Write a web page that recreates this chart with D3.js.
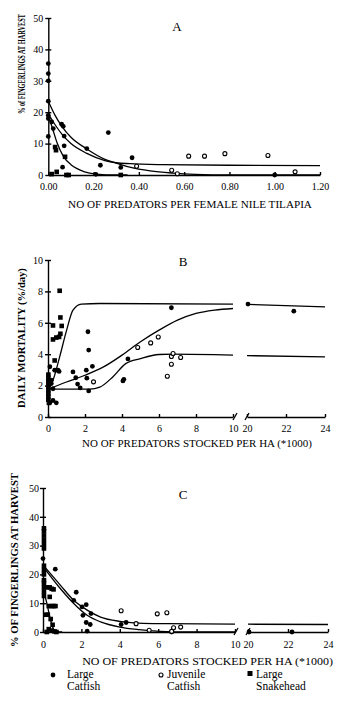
<!DOCTYPE html>
<meta charset="utf-8">
<head>
<title>Fingerlings vs predators</title>
<style>
  body { margin: 0; background: #fff; }
  svg { display: block; }
  .axis path, .axis line { fill: none; stroke: #000; stroke-width: 1.4px; }
  .axis text { font: 10px "Liberation Serif"; fill: #000; }
  .curve { fill: none; stroke: #000; stroke-width: 1.3px; }
  .ttl { font-family: "Liberation Serif"; fill: #000; }
</style>
</head>
<body>
<script src="https://cdn.jsdelivr.net/npm/d3@7"></script>
<script>
// ---- data: panel A (predators per female Nile tilapia) ----
var aLargeCatfish = [[0,35.5],[0,32.3],[0,30],[0,23.5],[0,19],[0,18],[0,12.3],[0.015,16.9],[0.022,14.8],
  [0.059,16.2],[0.066,15.5],[0.07,12.4],[0.07,9.3],[0.063,2.5],[0.17,8.4],[0.265,13.5],[0.23,3.1],
  [0.32,2.4],[0.37,5.5],[0.21,0.2],[1.0,0]];
var aJuvenileCatfish = [[0.39,2.8],[0.545,1.5],[0.57,0.4],[0.62,6],[0.69,6],[0.78,6.8],[0.97,6.2],[1.09,1]];
var aSnakehead = [[0.03,8.9],[0.034,7.9],[0.074,5.8],[0.037,1],[0.015,0.3],[0.08,0],[0.09,0],[0.32,0]];
var aCurveCatfish = [[0,23.5],[0.03,19],[0.06,15.5],[0.1,12],[0.17,8.3],[0.25,5],[0.3,3.8],[0.36,2.5],
  [0.45,1.3],[0.55,0.6],[0.65,0.2],[0.8,0],[1.2,0]];
var aCurveJuvenile = [[0,19.5],[0.03,16],[0.06,13],[0.1,10],[0.17,6.9],[0.25,4.6],[0.3,3.9],[0.36,3.6],
  [0.5,3.3],[0.8,3.1],[1.2,3.0]];
var aCurveSnakehead = [[0,19],[0.02,14.5],[0.04,10],[0.066,6],[0.1,3.3],[0.125,2.1],[0.16,1],[0.21,0.3],
  [0.3,0],[0.35,0]];
var aXTicks = [0, 0.2, 0.4, 0.6, 0.8, 1.0, 1.2];
var aYTicks = [0, 10, 20, 30, 40, 50];

// ---- data: panel B (daily mortality) ----
var bLargeCatfish = [[0.1,3.2],[0.18,2.34],[0.18,2.13],[0.27,1.8],[0.36,2.98],[0.45,2.98],[0.54,2.98],
  [0.6,2.9],[0.45,0.9],[0.27,1.05],[0.1,0.9],[1.35,2.87],[1.5,2.5],[1.6,2.1],[1.74,1.85],[2.07,2.98],
  [2.16,5.43],[2.2,4.26],[2.1,2.47],[2.2,1.66],[2.4,3.23],[4.05,2.3],[4.1,2.4],[4.32,3.7],[6.67,6.96],
  [20.05,7.19],[22.4,6.74]];
var bJuvenileCatfish = [[2.46,2.24],[4.85,4.43],[5.55,4.72],[5.96,5.1],[6.45,2.6],[6.67,3.36],
  [6.67,3.85],[6.76,4.04],[7.17,3.79]];
var bSnakehead = [[0.63,8.04],[0.67,6.34],[0.74,5.8],[0.27,5.83],[0.27,4.94],[0.45,5.06],[0.6,5.1],
  [0.67,5.3],[0.36,3.6],[0.02,2.7],[0.02,2.5],[0.02,2.3],[0.02,2.1],[0.02,1.9],[0.02,1.7],[0.02,1.5],
  [0.02,1.3],[0.02,1.1],[0.05,0.9]];
var bCurveSnakehead = [[0,1.77],[0.27,2.34],[0.63,3.83],[1.0,5.5],[1.35,6.8],[1.8,7.19],[2.8,7.23],[10,7.19]];
var bCurveCatfish = [[0,1.77],[1,2.23],[2,2.66],[3,3.19],[4,3.94],[5,4.79],[6,5.53],[7,6.17],[8,6.6],
  [9,6.81],[10,6.91]];
var bCurveJuvenile = [[0,1.77],[2.25,1.77],[2.8,1.9],[3.5,2.55],[4.2,3.4],[5,3.72],[6,3.98],[6.75,4.0],[10,3.94]];
var bCurveUpperRight = [[20,7.17],[24,7.02]];
var bCurveLowerRight = [[20,3.91],[24,3.83]];
var bXTicksLeft = [0, 2, 4, 6, 8, 10];
var bXTicksRight = [20, 22, 24];
var bYTicks = [0, 2, 4, 6, 8, 10];

// ---- data: panel C (fingerlings vs predators per ha) ----
var cLargeCatfish = [[0,25.5],[0.64,21.8],[1.73,13.8],[1.6,11],[2.03,8.7],[2.25,9.5],[2.5,6.4],[2.08,5.8],
  [2.25,3.3],[2.46,2.6],[2.3,0.3],[4.07,2.6],[4.33,3.3],[6.7,0],[20.05,0],[22.2,0]];
var cJuvenileCatfish = [[4.07,7.4],[4.85,2.9],[5.53,0.6],[5.95,6.3],[6.45,6.7],[6.8,1.5],[7.17,1.7],[6.7,0.2]];
var cSnakehead = [[0.05,36],[0.05,35],[0.05,33.5],[0.05,32],[0.05,30.5],[0.05,29],[0.05,23],[0.05,21.5],
  [0.05,20],[0.05,18],[0.05,17],[0.05,15.5],[0.05,14],[0.05,12.5],[0.2,15.5],[0.35,15.5],[0.45,15],
  [0.55,14.8],[0.35,12.2],[0.45,9],[0.55,9],[0.65,9],[0.3,9],[0.15,6],[0.25,6],[0.4,4.5],[0.5,2.5],
  [0.3,1],[0.45,0.5],[0.6,0.2],[0.7,0],[0.2,0]];
var cCurveCatfish = [[0,23.3],[0.9,16.3],[1.6,11],[2.3,7.6],[3,5.2],[4,3.7],[5,3.1],[6.4,2.9],[10,2.7]];
var cCurveJuvenile = [[0,22.8],[0.9,15.1],[1.6,9.9],[2.3,5.8],[3,3.5],[4,1.7],[5,0.8],[6.1,0.23],[7.5,0],[10,0]];
var cCurveSnakehead = [[0,15],[0.2,10],[0.4,4],[0.55,1],[0.7,0.1],[1,0]];
var cCurveUpperRight = [[20,2.7],[24,2.6]];
var cXTicksLeft = [0, 2, 4, 6, 8, 10];
var cXTicksRight = [20, 22, 24];
var cYTicks = [0, 10, 20, 30, 40, 50];

var legendLabels = [["Large", "Catfish"], ["Juvenile", "Catfish"], ["Large", "Snakehead"]];

var svg = d3.select("body").append("svg")
    .attr("width", 350)
    .attr("height", 702);

function yAxis(g, y, ticks, x0, pad) {
  var ax = g.append("g")
      .attr("class", "axis")
      .attr("transform", "translate(" + x0 + ",0)")
      .call(d3.axisLeft(y).tickValues(ticks).tickSize(3).tickSizeOuter(0).tickPadding(pad));
  ax.selectAll(".tick line").attr("x1", 3);
}

function xAxis(g, x, ticks, y0, fmt, pad) {
  g.append("g")
      .attr("class", "axis")
      .attr("transform", "translate(0," + y0 + ")")
      .call(d3.axisBottom(x).tickValues(ticks).tickSize(-3).tickSizeOuter(0)
        .tickPadding(pad).tickFormat(fmt));
}

function breakMark(g, x, y) {
  g.append("line").attr("x1", x - 2).attr("y1", y + 3).attr("x2", x + 2).attr("y2", y - 4)
      .attr("stroke", "#000").attr("stroke-width", 1.3);
}

function drawMarks(g, px, py, filled, open, squares) {
  g.selectAll(".fc").data(filled).enter().append("circle")
      .attr("cx", function(d) { return px(d[0]); })
      .attr("cy", function(d) { return py(d[1]); })
      .attr("r", 2.4).attr("fill", "#000");
  g.selectAll(".oc").data(open).enter().append("circle")
      .attr("cx", function(d) { return px(d[0]); })
      .attr("cy", function(d) { return py(d[1]); })
      .attr("r", 2).attr("fill", "#fff").attr("stroke", "#000").attr("stroke-width", 1.1);
  g.selectAll(".sq").data(squares).enter().append("rect")
      .attr("x", function(d) { return px(d[0]) - 2.3; })
      .attr("y", function(d) { return py(d[1]) - 2.3; })
      .attr("width", 4.6).attr("height", 4.6).attr("fill", "#000");
}

function drawCurve(g, px, py, pts) {
  var line = d3.line()
      .x(function(d) { return px(d[0]); })
      .y(function(d) { return py(d[1]); })
      .curve(d3.curveMonotoneX);
  g.append("path").attr("class", "curve").attr("d", line(pts));
}

// text squeezed to a given length with a scale transform, so its box matches what is drawn
function fitText(g, text, x, y, rot, len, size, weight) {
  var t = g.append("text").attr("class", "ttl")
      .attr("text-anchor", "middle")
      .style("font-size", size + "px").style("font-weight", weight)
      .text(text);
  var k = len / t.node().getComputedTextLength();
  t.attr("transform", "translate(" + x + "," + y + ")" + (rot ? " rotate(-90)" : "") +
      " scale(" + k + ",1)");
}

function letter(g, text, x, y) {
  g.append("text").attr("class", "ttl").attr("x", x).attr("y", y)
      .attr("text-anchor", "middle").style("font-size", "13px").text(text);
}

// ---------- panel A ----------
var gA = svg.append("g");
var xA = d3.scaleLinear().domain([0, 1.2]).range([48.3, 320]);
var yA = d3.scaleLinear().domain([0, 50]).range([175, 18]);
drawCurve(gA, xA, yA, aCurveCatfish);
drawCurve(gA, xA, yA, aCurveJuvenile);
drawCurve(gA, xA, yA, aCurveSnakehead);
yAxis(gA, yA, aYTicks, 48.3, 2);
xAxis(gA, xA, aXTicks, 175, d3.format(".2f"), 8);
drawMarks(gA, xA, yA, aLargeCatfish, aJuvenileCatfish, aSnakehead);
fitText(gA, "% of FINGERLINGS AT HARVEST", 24.5, 64, true, 100, 9.5, "bold");
fitText(gA, "NO OF PREDATORS PER FEMALE NILE TILAPIA", 190, 208, false, 244, 10.5, "normal");
letter(gA, "A", 177, 31);

// ---------- panel B ----------
var gB = svg.append("g");
var xBL = d3.scaleLinear().domain([0, 10]).range([48, 233]);
var xBR = d3.scaleLinear().domain([20, 24]).range([247, 325]);
var xB = function(v) { return v <= 15 ? xBL(v) : xBR(v); };
var yB = d3.scaleLinear().domain([0, 10]).range([417, 260]);
drawCurve(gB, xB, yB, bCurveSnakehead);
drawCurve(gB, xB, yB, bCurveCatfish);
drawCurve(gB, xB, yB, bCurveJuvenile);
drawCurve(gB, xB, yB, bCurveUpperRight);
drawCurve(gB, xB, yB, bCurveLowerRight);
yAxis(gB, yB, bYTicks, 48, 2);
xAxis(gB, xBL, bXTicksLeft, 417, d3.format("d"), 8);
xAxis(gB, xBR, bXTicksRight, 417, d3.format("d"), 8);
breakMark(gB, 235, 417);
breakMark(gB, 247, 417);
drawMarks(gB, xB, yB, bLargeCatfish, bJuvenileCatfish, bSnakehead);
fitText(gB, "DAILY MORTALITY (%/day)", 25, 338, true, 140, 10, "bold");
fitText(gB, "NO OF PREDATORS STOCKED PER HA (*1000)", 197, 447, false, 230, 10.5, "normal");
letter(gB, "B", 183, 266);

// ---------- panel C ----------
var gC = svg.append("g");
var xCL = d3.scaleLinear().domain([0, 10]).range([43, 235]);
var xCR = d3.scaleLinear().domain([20, 24]).range([248, 328]);
var xC = function(v) { return v <= 15 ? xCL(v) : xCR(v); };
var yC = d3.scaleLinear().domain([0, 50]).range([632, 488]);
drawCurve(gC, xC, yC, cCurveCatfish);
drawCurve(gC, xC, yC, cCurveJuvenile);
drawCurve(gC, xC, yC, cCurveSnakehead);
drawCurve(gC, xC, yC, cCurveUpperRight);
yAxis(gC, yC, cYTicks, 43, 1);
xAxis(gC, xCL, cXTicksLeft, 632, d3.format("d"), 9);
xAxis(gC, xCR, cXTicksRight, 632, d3.format("d"), 9);
breakMark(gC, 236, 632);
breakMark(gC, 248, 632);
drawMarks(gC, xC, yC, cLargeCatfish, cJuvenileCatfish, cSnakehead);
fitText(gC, "% OF FINGERLINGS AT HARVEST", 18, 560, true, 174, 11, "bold");
fitText(gC, "NO OF PREDATORS STOCKED PER HA (*1000)", 207.5, 665, false, 251, 10.5, "normal");
letter(gC, "C", 183, 499);

// ---------- legend ----------
var legX = [53, 161, 250];
var leg = svg.append("g");
leg.append("circle").attr("cx", legX[0]).attr("cy", 675).attr("r", 2.4).attr("fill", "#000");
leg.append("circle").attr("cx", legX[1]).attr("cy", 675).attr("r", 2)
    .attr("fill", "#fff").attr("stroke", "#000").attr("stroke-width", 1.1);
leg.append("rect").attr("x", legX[2] - 2.5).attr("y", 671).attr("width", 5).attr("height", 5).attr("fill", "#000");
legendLabels.forEach(function(lbl, i) {
  var tx = legX[i] + (i === 0 ? 14 : 6);
  var t = leg.append("text").attr("class", "ttl").style("font-size", "11.5px");
  t.append("tspan").attr("x", tx).attr("y", 678).text(lbl[0]);
  t.append("tspan").attr("x", tx).attr("y", 690).text(lbl[1]);
});
</script>
</body>
